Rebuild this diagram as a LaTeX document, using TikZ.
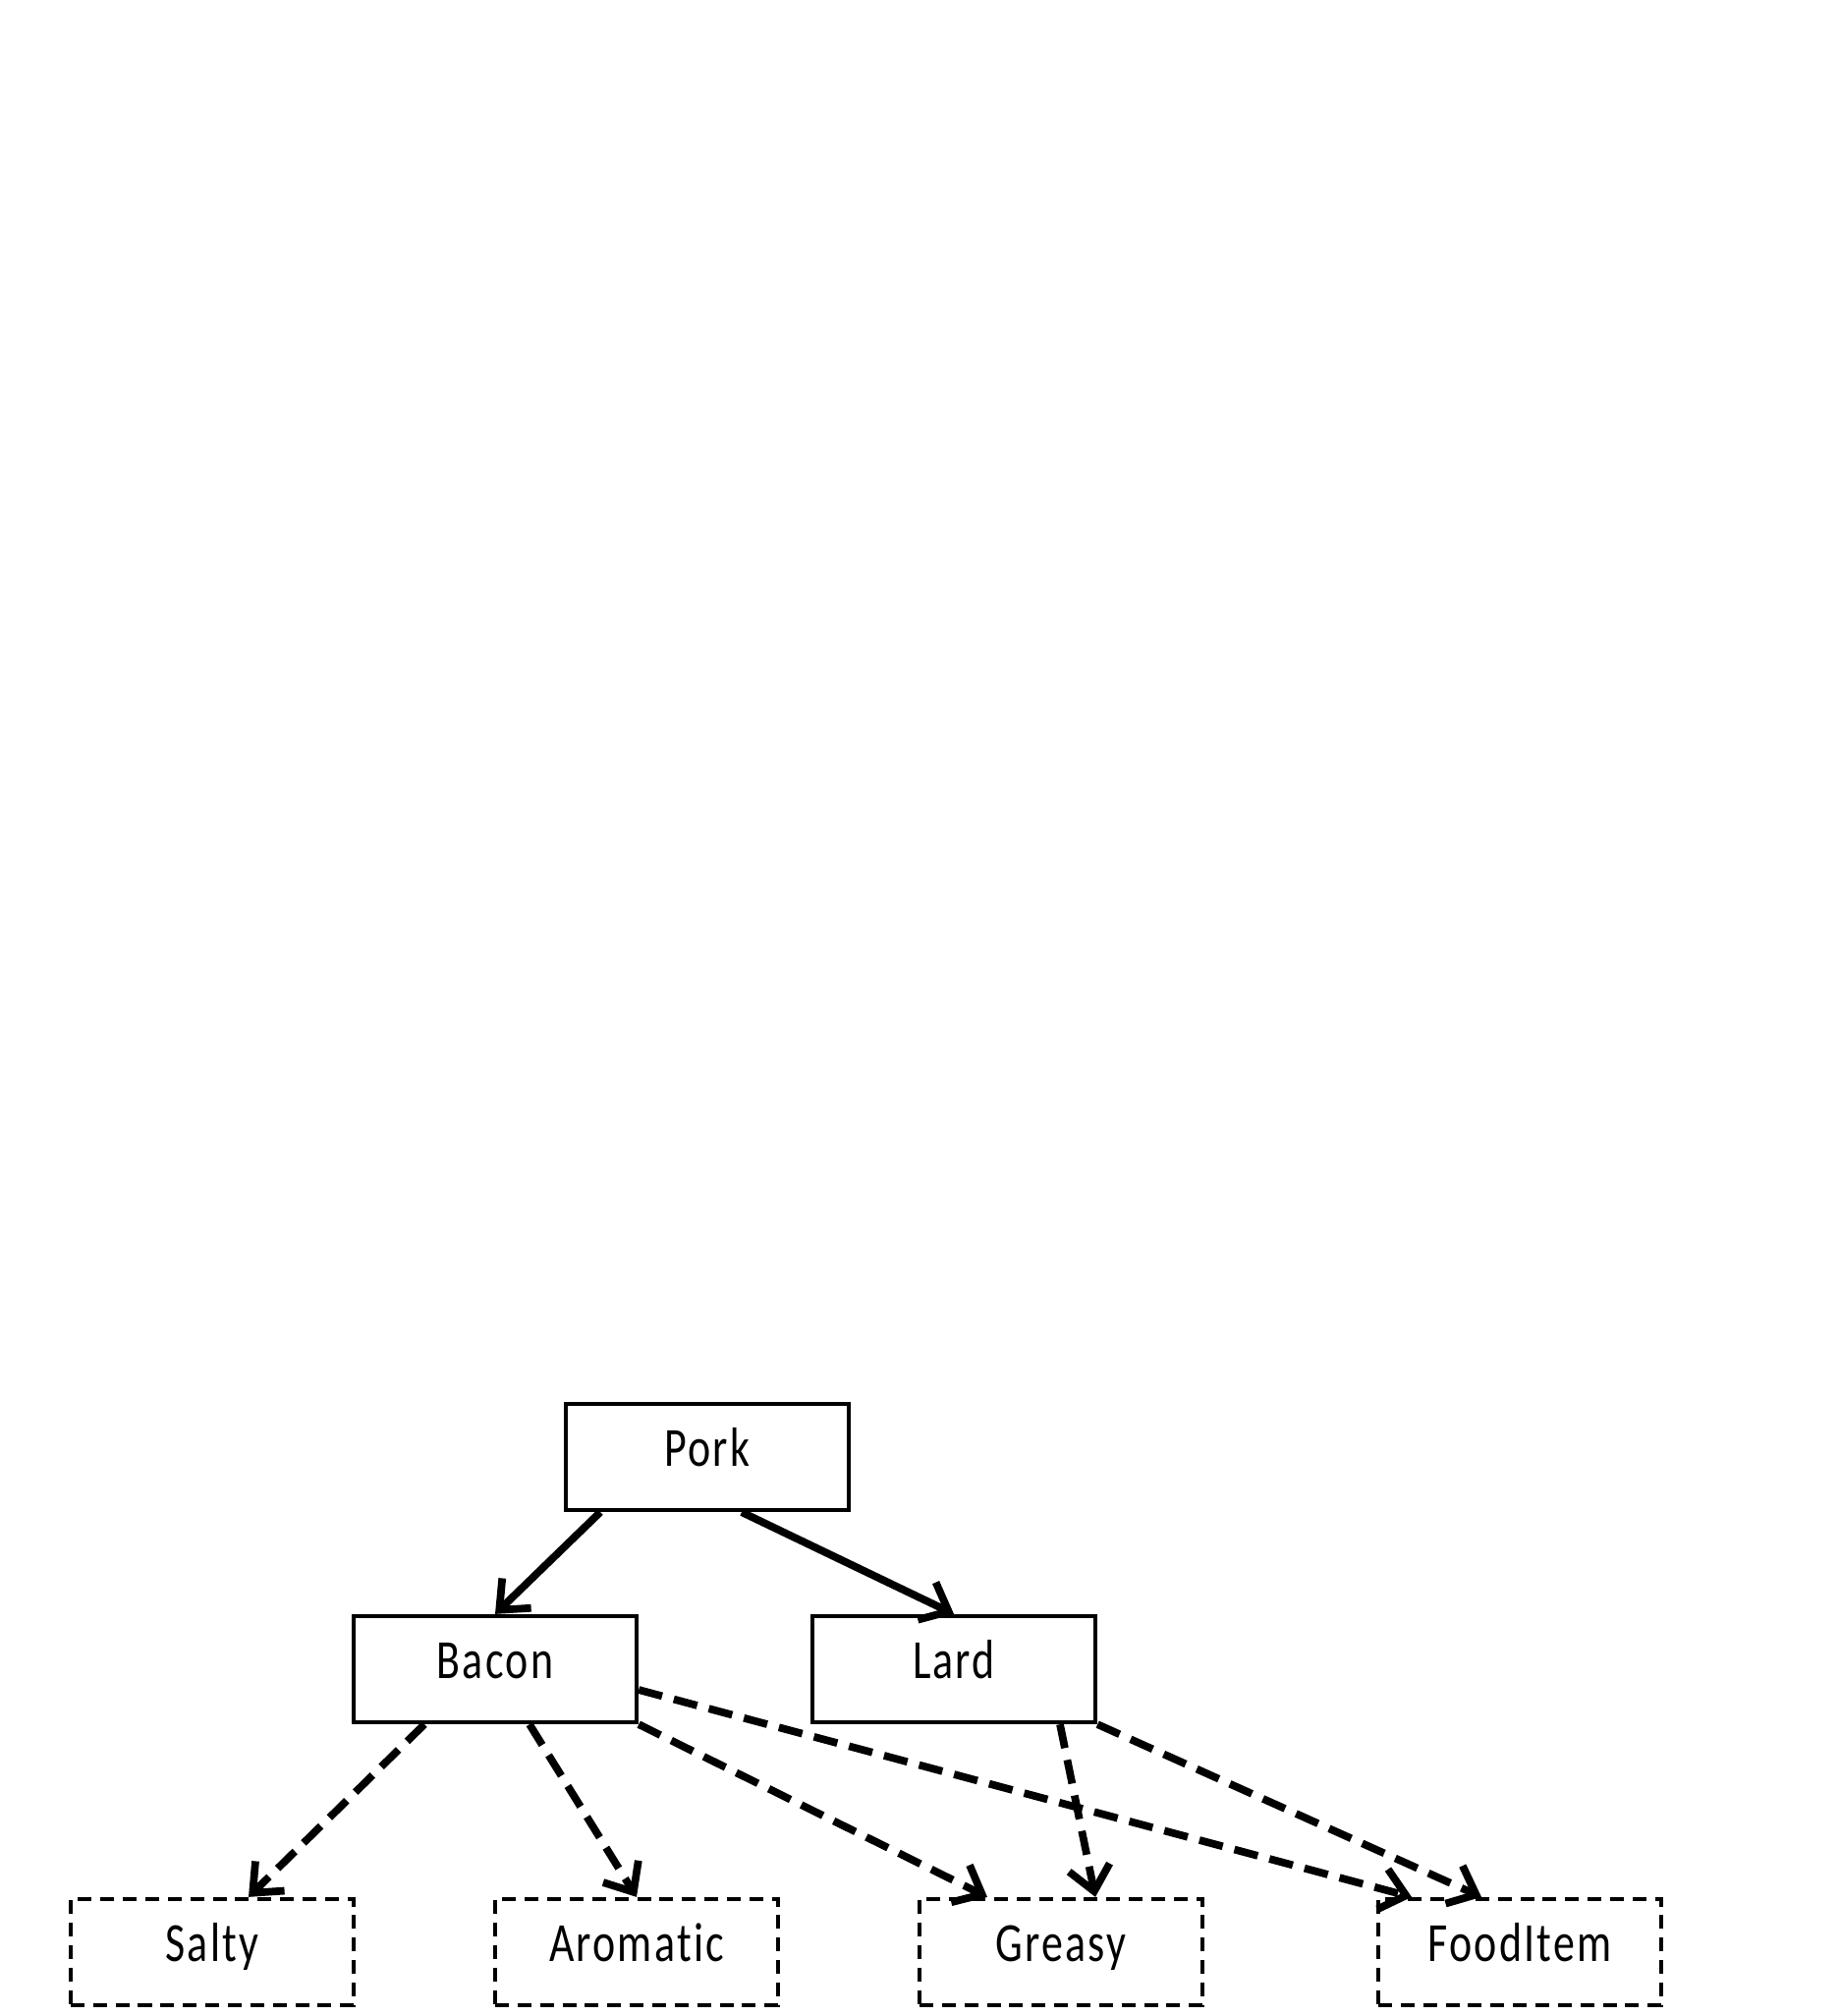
\documentclass[tikz,border=0pt]{standalone}
\usepackage{fontspec}
\setmainfont{Carlito}[FakeStretch=0.78, LetterSpace=4, Ligatures=NoCommon]
\usepackage{tikz}
\usetikzlibrary{calc, arrows.meta}

\tikzset{
  classbox/.style={draw, line width=1.2pt, minimum width=2.88cm, minimum height=1.08cm,
                   font=\fontsize{16}{19}\selectfont, inner sep=0pt,
                   text height=11pt, text depth=5.8pt},
  traitbox/.style={classbox, dash pattern=on 4pt off 2.5pt},
  isa/.style={line width=2.2pt, -{Straight Barb[length=7pt, width=12pt, line width=2.2pt]}},
  has/.style={isa, dash pattern=on 7pt off 3.5pt}
}

\begin{document}
\begin{tikzpicture}[x=0.01cm, y=-0.01cm]
  \useasboundingbox (0,0) rectangle (1872,2052);

  % --- classes ---
  \node[classbox] (pork)  at (720,1483) {Pork};
  \node[classbox] (bacon) at (504,1699) {Bacon};
  \node[classbox] (lard)  at (971,1699) {Lard};

  % --- traits ---
  \node[traitbox] (salty)    at (216,1987)  {Salty};
  \node[traitbox] (aromatic) at (648,1987)  {Aromatic};
  \node[traitbox] (greasy)   at (1080,1987) {Greasy};
  \node[traitbox] (fooditem) at (1547,1987) {FoodItem};

  % --- subclass arrows ---
  \draw[isa] ($(pork.south)+(-109,0)$) -- (bacon.north);
  \draw[isa] ($(pork.south)+(35,0)$) -- (lard.north);

  % --- trait arrows ---
  \draw[has] ($(bacon.south)+(-72,0)$) -- ($(salty.north)+(37,0)$);
  \draw[has] ($(bacon.south)+(35,0)$) -- (aromatic.north);
  \draw[has] (bacon.south east) -- ($(greasy.north)+(-75,0)$);
  \draw[has] ($(bacon.east)+(0,21)$) -- ($(fooditem.north)+(-110,0)$);
  \draw[has] ($(lard.south)+(108,0)$) -- ($(greasy.north)+(35,0)$);
  \draw[has] (lard.south east) -- ($(fooditem.north)+(-39,0)$);
\end{tikzpicture}
\end{document}
